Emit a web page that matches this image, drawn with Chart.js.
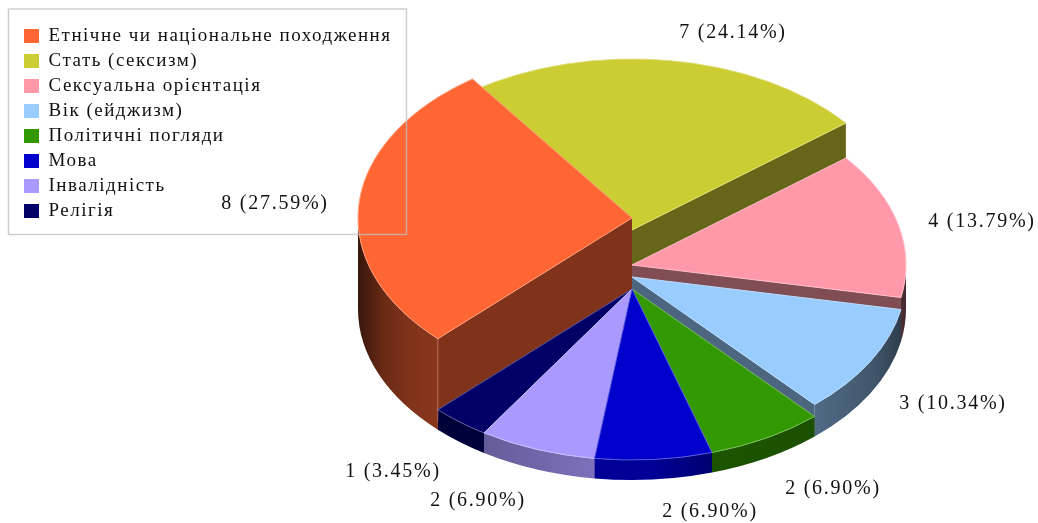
<!DOCTYPE html>
<html>
<head>
<meta charset="utf-8">
<script src="https://cdn.jsdelivr.net/npm/chart.js@4/dist/chart.umd.js"></script>
<style>
  html, body { margin: 0; padding: 0; background: #fff; }
  canvas { display: block; }
</style>
</head>
<body>
<canvas id="myChart" width="1038" height="523"></canvas>
<script>
// Дані діаграми
var categories = ['Етнічне чи національне походження', 'Стать (сексизм)', 'Сексуальна орієнтація', 'Вік (ейджизм)', 'Політичні погляди', 'Мова', 'Інвалідність', 'Релігія'];
var counts = [8, 7, 4, 3, 2, 2, 2, 1];
var colors = ['#ff6633', '#cccc33', '#ff99aa', '#99ccff', '#339900', '#0000cc', '#aa99ff', '#000066'];

// Геометрія псевдо-3D
var cx = 632, rx = 274, ry = 171, floorY = 309;
var topY = [218, 230, 265, 277, 289, 289, 289, 289];
var paintOrder = [1, 0, 2, 3, 4, 7, 6, 5];
var labelCenters = [[275, 204], [733, 33], [982, 222], [953, 404], [833, 489], [710, 512], [478, 501], [393, 472]];
var wallShade = [[358, 0.22], [385, 0.42], [410, 0.5], [485, 0.6], [600, 0.74], [650, 0.74], [712, 0.55], [816, 0.52], [875, 0.42], [905, 0.28]];

function tint(hex, k) {
    var n = parseInt(hex.slice(1), 16);
    return 'rgb(' + Math.round((n >> 16 & 255) * k) + ',' + Math.round((n >> 8 & 255) * k) + ',' + Math.round((n & 255) * k) + ')';
}
function lighten(hex, a) {
    var n = parseInt(hex.slice(1), 16);
    var mix = function (c) { return Math.round(c + (255 - c) * a); };
    return 'rgb(' + mix(n >> 16 & 255) + ',' + mix(n >> 8 & 255) + ',' + mix(n & 255) + ')';
}

function drawFace(ctx, i, angle) {
    var px = cx + rx * Math.cos(angle), dy = ry * Math.sin(angle);
    ctx.beginPath();
    ctx.moveTo(cx, topY[i]);
    ctx.lineTo(px, topY[i] + dy);
    ctx.lineTo(px, floorY + dy);
    ctx.lineTo(cx, floorY);
    ctx.closePath();
    ctx.fillStyle = tint(colors[i], 0.5);
    ctx.fill();
}

function drawWall(ctx, i, start, end) {
    var grad = ctx.createLinearGradient(358, 0, 905, 0);
    wallShade.forEach(function (s) {
        grad.addColorStop((s[0] - 358) / 547, tint(colors[i], s[1]));
    });
    [0, 2 * Math.PI].forEach(function (base) {
        var a = Math.max(start, base), b = Math.min(end, base + Math.PI);
        if (a >= b) return;
        ctx.beginPath();
        ctx.ellipse(cx, topY[i], rx, ry, 0, a, b);
        ctx.ellipse(cx, floorY, rx, ry, 0, b, a, true);
        ctx.closePath();
        ctx.fillStyle = grad;
        ctx.fill();
    });
}

var tiltedPie = {
    id: 'tiltedPie',
    beforeDraw: function (chart) {
        chart.ctx.letterSpacing = '1.5px';
    },
    afterLayout: function (chart) {
        // легенда лежить поверх області діаграми
        var l = chart.legend;
        l.left = 18; l.top = 16; l.width = 380; l.height = 215;
        l.right = l.left + l.width; l.bottom = l.top + l.height;
    },
    beforeDatasetsDraw: function (chart) {
        var ctx = chart.ctx;
        var arcs = chart.getDatasetMeta(0).data;
        ctx.save();
        paintOrder.forEach(function (i) {
            var s = arcs[i].startAngle, e = arcs[i].endAngle;
            if (Math.cos(s) < 0) drawFace(ctx, i, s);
            if (Math.cos(e) > 0) drawFace(ctx, i, e);
            drawWall(ctx, i, s, e);

            ctx.beginPath();
            ctx.moveTo(cx, topY[i]);
            ctx.ellipse(cx, topY[i], rx, ry, 0, s, e);
            ctx.closePath();
            ctx.fillStyle = colors[i];
            ctx.fill();
            ctx.strokeStyle = lighten(colors[i], 0.35);
            ctx.lineWidth = 1;
            ctx.stroke();
        });
        // ребро на стіні помаранчевого сектора
        var a0 = arcs[0].startAngle;
        ctx.beginPath();
        ctx.moveTo(cx + rx * Math.cos(a0), topY[0] + ry * Math.sin(a0));
        ctx.lineTo(cx + rx * Math.cos(a0), floorY + ry * Math.sin(a0) - 8);
        ctx.strokeStyle = 'rgba(255,200,170,0.35)';
        ctx.stroke();
        ctx.restore();
        return false;
    },
    afterDraw: function (chart) {
        var ctx = chart.ctx;
        var total = counts.reduce(function (a, b) { return a + b; }, 0);
        ctx.save();
        // рамка легенди видно і поверх сектора
        ctx.strokeStyle = 'rgba(190,190,190,0.75)';
        ctx.lineWidth = 1.5;
        ctx.strokeRect(8.5, 9, 398, 225.5);

        ctx.letterSpacing = '1.75px';
        ctx.fillStyle = '#111';
        ctx.font = '20px "Liberation Serif"';
        ctx.textAlign = 'center';
        ctx.textBaseline = 'middle';
        counts.forEach(function (v, i) {
            var txt = v + ' (' + (v / total * 100).toFixed(2) + '%)';
            ctx.fillText(txt, labelCenters[i][0], labelCenters[i][1]);
        });
        ctx.restore();
    }
};

var ctx = document.getElementById('myChart').getContext('2d');
new Chart(ctx, {
    type: 'pie',
    data: {
        labels: categories,
        datasets: [{
            data: counts,
            backgroundColor: colors,
            borderWidth: 0
        }]
    },
    options: {
        responsive: false,
        animation: false,
        rotation: 225.1,
        plugins: {
            tooltip: { enabled: false },
            legend: {
                position: 'left',
                labels: {
                    boxWidth: 15,
                    boxHeight: 14,
                    padding: 6,
                    color: '#111',
                    font: { family: '"Liberation Serif"', size: 19 }
                }
            }
        }
    },
    plugins: [tiltedPie]
});
</script>
</body>
</html>
